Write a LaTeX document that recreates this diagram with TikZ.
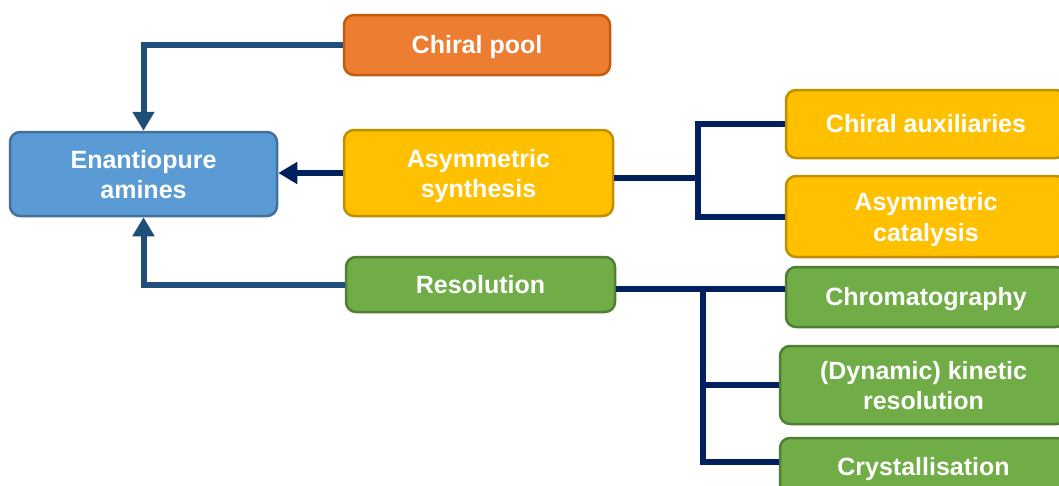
\documentclass[tikz,border=0pt]{standalone}
\usepackage{fontspec}
\setmainfont{Liberation Sans}
\usetikzlibrary{arrows.meta}

\definecolor{poolfill}{HTML}{ED7D31}
\definecolor{pooledge}{HTML}{C55A11}
\definecolor{aminefill}{HTML}{5B9BD5}
\definecolor{amineedge}{HTML}{41719C}
\definecolor{synfill}{HTML}{FFC000}
\definecolor{synedge}{HTML}{BF9000}
\definecolor{resfill}{HTML}{70AD47}
\definecolor{resedge}{HTML}{507E32}
\definecolor{navy}{HTML}{002060}
\definecolor{steel}{HTML}{1F4E79}

% sets a label a little lower inside its box, keeping the box's reserved size
\newcommand\lowlabel[2][2.5pt]{\raisebox{-#1}[\height][\depth]{\begin{tabular}{@{}c@{}}#2\end{tabular}}}

\tikzset{
  box/.style={rounded corners=10pt, line width=2.5pt, text=white, align=center,
    font=\bfseries\fontsize{25}{29}\selectfont, inner sep=0pt},
  poolbox/.style={box, fill=poolfill, draw=pooledge},
  aminebox/.style={box, fill=aminefill, draw=amineedge},
  synbox/.style={box, fill=synfill, draw=synedge},
  resbox/.style={box, fill=resfill, draw=resedge},
  feed/.style={line width=6pt, line join=miter, -{Triangle[width=21pt,length=19pt]}},
  branch/.style={line width=6pt, draw=navy, line join=miter},
}

\begin{document}
\begin{tikzpicture}[x=1pt, y=-1pt]
\useasboundingbox (0,0) rectangle (1059,485);
\clip (0,0) rectangle (1059,485);
\renewcommand\arraystretch{1.05}

% main boxes
\node[poolbox, minimum width=266pt, minimum height=60pt] (pool) at (477,45) {\lowlabel{Chiral pool}};
\node[aminebox, minimum width=267pt, minimum height=84pt] (amines) at (143.5,174) {\lowlabel[3.5pt]{Enantiopure\\amines}};
\node[synbox, minimum width=269pt, minimum height=86pt] (asym) at (478.5,173) {\lowlabel[3.5pt]{Asymmetric\\synthesis}};
\node[resbox, minimum width=269pt, minimum height=55pt] (resol) at (480.5,284.5) {\lowlabel{Resolution}};

% methods of asymmetric synthesis
\node[synbox, minimum width=280pt, minimum height=68pt] (aux) at (926,124) {\lowlabel{Chiral auxiliaries}};
\node[synbox, minimum width=280pt, minimum height=81pt] (cat) at (926,216.5) {\lowlabel[3.5pt]{Asymmetric\\catalysis}};

% methods of resolution
\node[resbox, minimum width=280pt, minimum height=60pt] (chrom) at (926,297) {\lowlabel{Chromatography}};
\node[resbox, minimum width=287pt, minimum height=78pt] (dkr) at (923.5,385) {\lowlabel[3.5pt]{(Dynamic) kinetic\\resolution}};
\node[resbox, minimum width=287pt, minimum height=57pt] (cryst) at (923.5,466.5) {\lowlabel{Crystallisation}};

% routes into the amines
\draw[feed, draw=steel] (pool.west) -| (amines.north);
\draw[feed, draw=navy] (asym.west) -- (asym.west -| amines.east);
\draw[feed, draw=steel] (resol.west) -| (amines.south);

% asymmetric synthesis branches
\coordinate (b1) at (698,178);
\draw[branch] ([yshift=-5pt]asym.east) -- (b1);
\draw[branch] (aux.west) -| (b1) |- (cat.west);

% resolution branches
\coordinate (b2) at (703,289);
\draw[branch] ([yshift=-4.5pt]resol.east) -- ([yshift=8pt]chrom.west);
\draw[branch] (b2) |- (dkr.west);
\draw[branch] (b2) |- ([yshift=4.5pt]cryst.west);
\end{tikzpicture}
\end{document}
